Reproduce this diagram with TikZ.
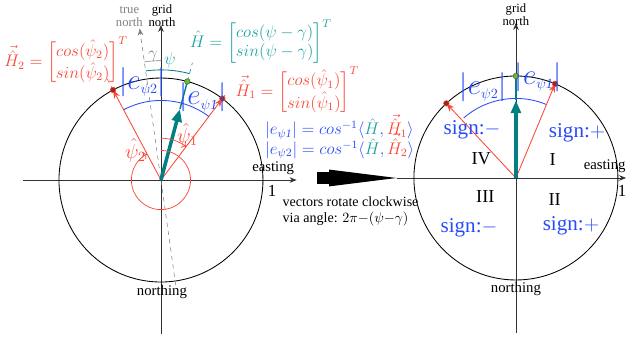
\documentclass[tikz,border=0pt]{standalone}
\usepackage{amsmath}
\usepackage{fontspec}
\setmainfont{Liberation Serif}
\usetikzlibrary{arrows.meta}
\definecolor{hred}{RGB}{250,70,55}
\definecolor{eblue}{RGB}{40,75,250}
\definecolor{hteal}{RGB}{0,128,128}
\definecolor{tteal}{RGB}{30,160,160}
\definecolor{gdotc}{RGB}{110,185,60}
\definecolor{rdotc}{RGB}{150,40,30}

\begin{document}
\begin{tikzpicture}[scale=2.55, auto,
    axis/.style={black!80, line width=0.6pt, -{Stealth[length=5pt,width=4pt]}},
    hvec/.style={hred, line width=0.6pt, -{Stealth[length=6pt,width=4.5pt]}},
    hvecext/.style={hred, dashed, line width=0.4pt},
    hmain/.style={hteal, line width=2.5pt, -{Triangle[length=9pt,width=7pt]}},
    hmaintip/.style={hteal, line width=1pt},
    rdot/.style={circle, draw=hred, fill=rdotc, inner sep=0pt, minimum size=4pt},
    gdot/.style={circle, draw=gdotc!60!black, fill=gdotc, inner sep=0pt, minimum size=4pt},
    small/.style={font=\fontsize{9}{9}\selectfont, align=center, inner sep=0pt},
    axlbl/.style={font=\fontsize{10.5}{11}\selectfont, inner sep=0pt},
    elbl/.style={eblue, font=\fontsize{20}{22}\selectfont, inner sep=0pt},
    signlbl/.style={eblue, font=\fontsize{15}{17}\selectfont, inner sep=0pt},
    quadlbl/.style={font=\fontsize{13}{15}\selectfont, inner sep=0pt},
    eqlbl/.style={font=\fontsize{12}{14}\selectfont, inner sep=0pt}]

    \useasboundingbox (-1.578,-1.539) rectangle (4.569,1.765);

    % Left: grid frame and unit circle
    \coordinate (O) at (0,0);
    \coordinate (Lw) at (-1.35,0);
    \coordinate (Le) at (1.33,0);
    \coordinate (Ls) at (0,-1.51);
    \coordinate (Ln) at (0,1.52);
    \draw[axis] (Lw) -- (Le);
    \draw[axis] (Ls) -- (Ln);
    \draw[line width=0.6pt] (O) circle (1);
    % true north
    \coordinate (Ts) at (-82:1.04);
    \coordinate (Tn) at (98:1.50);
    \draw[gray, dashed, line width=0.4pt, -{Stealth[length=5pt,width=4pt]}] (Ts) -- (Tn);

    % Left: vectors
    \coordinate (H1) at (53:1);
    \coordinate (H2) at (118:1);
    \coordinate (Hh) at (75:1);
    \coordinate (Hm) at (75:0.72);
    \coordinate (H1x) at (53:1.07);
    \coordinate (H2x) at (118:1.12);
    \coordinate (Hhx) at (75:1.19);
    \draw[hvecext] (H1) -- (H1x);
    \draw[hvecext] (H2) -- (H2x);
    \draw[hteal, dashed, line width=0.4pt] (Hh) -- (Hhx);
    \draw[hvec] (O) -- (H1);
    \draw[hvec] (O) -- (H2);
    \draw[hmain] (O) -- (Hm);
    \draw[hmaintip] (Hm) -- (Hh);
    \node[rdot] (d1) at (H1) {};
    \node[rdot] (d2) at (H2) {};
    \node[gdot] (dh) at (Hh) {};

    % Left: angles
    \draw[gray, line width=0.4pt] (98:1.17) arc (98:90:1.17);
    \draw[hteal, line width=0.6pt] (98:1.08) arc (98:75:1.08);
    \draw[eblue, line width=0.6pt] (118:0.78) arc (118:75:0.78);
    \draw[eblue, line width=0.6pt] (75:0.78) arc (75:53:0.78);
    \draw[hred, line width=0.5pt, ->] (90:0.41) arc (90:53:0.41);
    \draw[hred, line width=0.5pt, ->] (90:0.29) arc (90:-242:0.29);

    % Left: labels
    \node[small, gray] (tn) at (-0.31,1.60) {true\\north};
    \node[small] (gn) at (0.01,1.61) {grid\\north};
    \node[axlbl] (ea) at (1.10,0.12) {easting};
    \node[eqlbl] (one) at (1.09,-0.11) {1};
    \node[axlbl] (no) at (0.01,-1.10) {northing};
    \node[eqlbl, gray] (gam) at (-0.08,1.21) {$\gamma$};
    \node[eqlbl, tteal] (psi) at (0.09,1.17) {$\psi$};
    \node[elbl] (e2) at (-0.18,0.96) {$|e_{\scriptscriptstyle\psi 2}|$};
    \node[elbl] (e1) at (0.41,0.81) {$|e_{\scriptscriptstyle\psi\mathit{1}}|$};
    \node[hred, font=\fontsize{14}{16}\selectfont, inner sep=0pt] (p1) at (0.26,0.44) {$\hat{\psi}_1$};
    \node[hred, font=\fontsize{14}{16}\selectfont, inner sep=0pt] (p2) at (-0.25,0.29) {$\hat{\psi}_2$};
    \node[eqlbl, tteal, anchor=west] (Heq) at (0.28,1.36)
        {$\hat{H}=\begin{bmatrix}cos(\psi-\gamma)\\ sin(\psi-\gamma)\end{bmatrix}^{T}$};
    \node[eqlbl, hred] (H2eq) at (-0.93,1.17)
        {$\vec{\hat{H}}_2=\begin{bmatrix}cos(\hat{\psi}_2)\\ sin(\hat{\psi}_2)\end{bmatrix}^{T}$};
    \node[eqlbl, hred, anchor=west] (H1eq) at (0.73,0.88)
        {$\vec{\hat{H}}_1=\begin{bmatrix}cos(\hat{\psi}_1)\\ sin(\hat{\psi}_1)\end{bmatrix}^{T}$};
    \node[eqlbl, eblue, anchor=west] (e1eq) at (1.02,0.52)
        {$|e_{\psi\mathit{1}}|= cos^{-1}\langle{\color{tteal}\hat{H}},{\color{hred}\vec{\hat{H}}_1}\rangle$};
    \node[eqlbl, eblue, anchor=west] (e2eq) at (1.02,0.33)
        {$|e_{\psi 2}|= cos^{-1}\langle{\color{tteal}\hat{H}},{\color{hred}\vec{\hat{H}}_2}\rangle$};
    \node[anchor=west, align=left, font=\fontsize{10}{11.5}\selectfont, inner sep=0pt] (rot) at (1.19,-0.31)
        {vectors rotate clockwise\\via angle: $2\pi{-}(\psi{-}\gamma)$};

    % Right: rotated frame
    \begin{scope}[shift={(3.48,0.02)}]
    \coordinate (R) at (0,0);
    \coordinate (Rw) at (-1.17,0);
    \coordinate (Re) at (1.08,0);
    \coordinate (Rs) at (0,-1.52);
    \coordinate (Rn) at (0,1.52);
    \draw[axis] (Rw) -- (Re);
    \draw[axis] (Rs) -- (Rn);
    \draw[line width=0.6pt] (R) circle (1);
    \coordinate (G1) at (67.4:1);
    \coordinate (G2) at (133:1);
    \coordinate (Gh) at (90:1);
    \coordinate (Gm) at (90:0.76);
    \draw[eblue, line width=0.6pt] (131:0.78) arc (131:90:0.78);
    \draw[eblue, line width=0.6pt] (90:0.78) arc (90:67.4:0.78);
    \draw[hvec] (R) -- (G1);
    \draw[hvec] (R) -- (G2);
    \draw[hmain] (R) -- (Gm);
    \draw[hmaintip] (Gm) -- (Gh);
    \node[rdot] (f1) at (G1) {};
    \node[rdot] (f2) at (G2) {};
    \node[gdot] (fh) at (Gh) {};
    % labels
    \node[small] (gn2) at (0,1.60) {grid\\north};
    \node[axlbl] (ea2) at (0.87,0.12) {easting};
    \node[eqlbl] (one2) at (1.04,-0.13) {1};
    \node[axlbl] (no2) at (0,-1.09) {northing};
    \node[elbl] (g2) at (-0.32,0.89) {$|e_{\scriptscriptstyle\psi 2}|$};
    \node[elbl] (g1) at (0.22,0.99) {$|e_{\scriptscriptstyle\psi\mathit{1}}|$};
    \node[signlbl] (s4) at (-0.43,0.47) {sign:$-$};
    \node[signlbl] (s1) at (0.60,0.44) {sign:$+$};
    \node[signlbl] (s3) at (-0.46,-0.49) {sign:$-$};
    \node[signlbl] (s2) at (0.54,-0.47) {sign:$+$};
    \node[quadlbl] (q4) at (-0.34,0.19) {IV};
    \node[quadlbl] (q1) at (0.36,0.18) {I};
    \node[quadlbl] (q3) at (-0.30,-0.18) {III};
    \node[quadlbl] (q2) at (0.38,-0.21) {II};
    \end{scope}

    % rotation arrow between the frames
    \coordinate (Ba) at (1.53,0.02);
    \draw[line width=8pt, -{Triangle[length=48pt,width=12pt,line width=0pt]}] (Ba) -- (Rw);
\end{tikzpicture}
\end{document}
